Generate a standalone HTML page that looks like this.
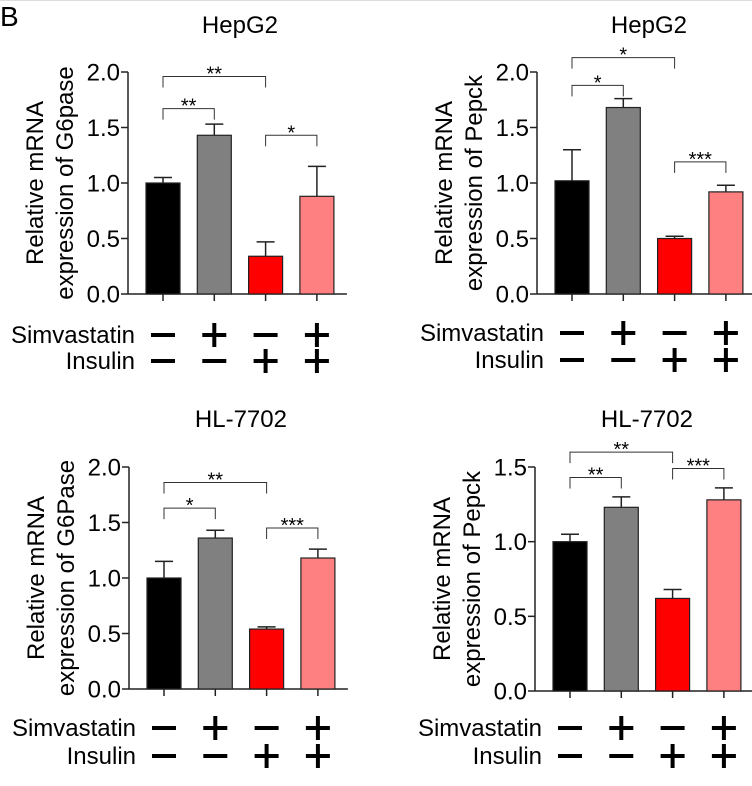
<!DOCTYPE html>
<html><head><meta charset="utf-8"><style>
html,body{margin:0;padding:0;background:#fff;}
svg{display:block;font-family:"Liberation Sans",Arial,sans-serif;}
</style></head><body>
<svg id="fig" width="752" height="786" viewBox="0 0 752 786" xmlns="http://www.w3.org/2000/svg">
<line x1="0" y1="0.5" x2="752" y2="0.5" stroke="#ddd" stroke-width="1"/>
<text x="0" y="26" font-size="28">B</text>
</svg>
<script>
const categories = ["Control","Simvastatin","Insulin","Simvastatin+Insulin"];
const simvastatinSigns = ["-","+","-","+"];
const insulinSigns = ["-","-","+","+"];
const barColors = ["#000000","#808080","#ff0000","#ff8080"];
const p1Values = [1.0, 1.43, 0.34, 0.88];
const p1Errors = [0.05, 0.10, 0.13, 0.27];
const p2Values = [1.02, 1.68, 0.50, 0.92];
const p2Errors = [0.28, 0.08, 0.02, 0.06];
const p3Values = [1.0, 1.36, 0.54, 1.18];
const p3Errors = [0.15, 0.07, 0.02, 0.08];
const p4Values = [1.0, 1.23, 0.62, 1.28];
const p4Errors = [0.05, 0.07, 0.06, 0.08];
const ticks20 = [0, 0.5, 1.0, 1.5, 2.0];
const ticks15 = [0, 0.5, 1.0, 1.5];
const p1Sig = [[0,2,"**",1.96],[0,1,"**",1.67],[2,3,"*",1.43]];
const p2Sig = [[0,2,"*",2.13],[0,1,"*",1.88],[2,3,"***",1.19]];
const p3Sig = [[0,2,"**",1.86],[0,1,"*",1.63],[2,3,"***",1.45]];
const p4Sig = [[0,2,"**",1.60],[0,1,"**",1.43],[2,3,"***",1.49]];

const NS="http://www.w3.org/2000/svg";
const svg=document.getElementById('fig');
function mk(tag,attrs,parent){const e=document.createElementNS(NS,tag);for(const k in attrs)e.setAttribute(k,attrs[k]);(parent||svg).appendChild(e);return e;}

function panel(cfg){
  const g=mk('g',{});
  
  
  const y=v=>cfg.y0-(v/cfg.max)*(cfg.y0-cfg.yTop);
  const step=51.3;
  const bx=i=>cfg.ax+35+i*step;
  const t=mk('text',{x:(bx(0)+bx(3))/2,y:cfg.titleY,'font-size':24,'text-anchor':'middle'},g);t.textContent=cfg.title;
  
  
  const yl=mk('text',{transform:`translate(${cfg.ax-85},${(cfg.y0+cfg.yTop)/2}) rotate(-90)`,'font-size':24,'text-anchor':'middle'},g);
  
  
  const t1=mk('tspan',{x:0,dy:0},yl);t1.textContent="Relative mRNA";
  const t2=mk('tspan',{x:0,dy:30},yl);t2.textContent=cfg.ylab;
  mk('line',{x1:cfg.ax,x2:cfg.ax,y1:y(cfg.max),y2:cfg.y0,stroke:'#222','stroke-width':1.5},g);
  mk('line',{x1:cfg.ax,x2:bx(3)+30,y1:cfg.y0,y2:cfg.y0,stroke:'#222','stroke-width':1.5},g);
  cfg.ticks.forEach(v=>{
    mk('line',{x1:cfg.ax-7,x2:cfg.ax,y1:y(v),y2:y(v),stroke:'#222','stroke-width':1.5},g);
    const tl=mk('text',{x:cfg.ax-8,y:y(v)+8.5,'font-size':24,'text-anchor':'end'},g);tl.textContent=v.toFixed(1);
    
    
  });
  cfg.values.forEach((v,i)=>{
    const cx=bx(i),w=34;
    const e=cfg.errors[i];
    mk('line',{x1:cx,x2:cx,y1:cfg.y0,y2:cfg.y0+7,stroke:'#222','stroke-width':1.5},g);
    mk('line',{x1:cx,x2:cx,y1:y(v),y2:y(v+e),stroke:'#222','stroke-width':1.5},g);
    mk('line',{x1:cx-9,x2:cx+9,y1:y(v+e),y2:y(v+e),stroke:'#222','stroke-width':1.5},g);
    const r=mk('rect',{x:cx-w/2,y:y(v),width:w,height:cfg.y0-y(v),fill:barColors[i],stroke:'#222','stroke-width':1.2},g);
    
    
  });
  cfg.sig.forEach(s=>{
    const x1=bx(s[0]),x2=bx(s[1]),yy=y(s[3]);
    mk('path',{d:`M${x1},${yy+11}V${yy}H${x2}V${yy+11}`,fill:'none',stroke:'#333','stroke-width':1},g);
    const st=mk('text',{x:(x1+x2)/2,y:yy+4,'font-size':20,'text-anchor':'middle'},g);st.textContent=s[2];
    
    
  });
  [[simvastatinSigns,"Simvastatin",cfg.r1],[insulinSigns,"Insulin",cfg.r2]].forEach(row=>{
    const lb=mk('text',{x:cfg.ax+7,y:row[2]+8,'font-size':24,'text-anchor':'end'},g);lb.textContent=row[1];
    
    
    row[0].forEach((s,i)=>{
      const cx=bx(i);
      mk('line',{x1:cx-12,x2:cx+12,y1:row[2],y2:row[2],stroke:'#000','stroke-width':4},g);
      if(s==='+')mk('line',{x1:cx,x2:cx,y1:row[2]-12,y2:row[2]+12,stroke:'#000','stroke-width':4},g);
    });
  });
}
panel({name:'hepg2-g6pase-chart',title:'HepG2',ylab:'expression of G6pase',ax:128,y0:294,yTop:72,max:2.0,ticks:ticks20,values:p1Values,errors:p1Errors,sig:p1Sig,titleY:33,r1:335,r2:361});
panel({name:'hepg2-pepck-chart',title:'HepG2',ylab:'expression of Pepck',ax:537,y0:294,yTop:72,max:2.0,ticks:ticks20,values:p2Values,errors:p2Errors,sig:p2Sig,titleY:33,r1:333,r2:360});
panel({name:'hl7702-g6pase-chart',title:'HL-7702',ylab:'expression of G6Pase',ax:129,y0:689,yTop:467,max:2.0,ticks:ticks20,values:p3Values,errors:p3Errors,sig:p3Sig,titleY:427,r1:728,r2:756});
panel({name:'hl7702-pepck-chart',title:'HL-7702',ylab:'expression of Pepck',ax:535,y0:691,yTop:467,max:1.5,ticks:ticks15,values:p4Values,errors:p4Errors,sig:p4Sig,titleY:427,r1:728,r2:756});
</script>
</body></html>
